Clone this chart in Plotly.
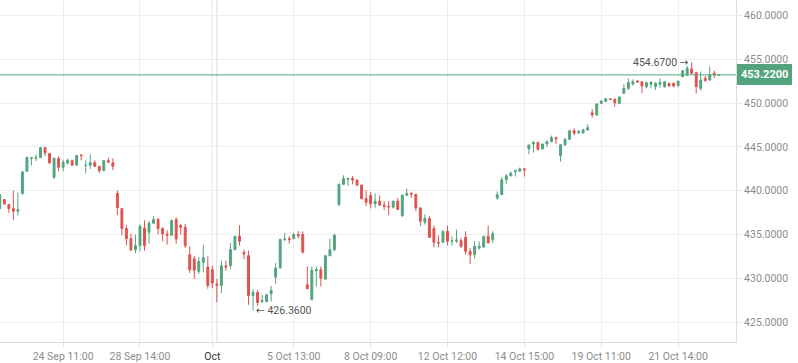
import plotly.graph_objects as go

opens = [437.97, 439.0, 438.42, 437.97, 437.66, 439.68, 442.22, 443.7, 443.7, 443.78,
         444.92, 444.24, 441.54, 443.67, 442.68, 443.17, 443.44, 442.91, 444.09, 442.87,
         442.91, 443.21, 442.79, 442.3, 443.44, 443.21, 439.69, 437.98, 435.69, 434.54,
         433.28, 433.74, 435.76, 435.27, 436.3, 436.72, 435.69, 435.08, 434.92, 436.72,
         436.03, 435.84, 432.71, 432.25, 430.8, 431.83, 431.3, 430.99, 429.35, 429.2,
         431.45, 431.45, 433.28, 434.81, 432.98, 432.6, 428.05, 428.4, 427.37, 427.37,
         428.25, 430.15, 431.18, 434.43, 434.54, 434.54, 435.0, 435.0, 429.27, 427.56,
         430.88, 430.99, 429.92, 432.6, 433.28, 438.44, 440.73, 441.3, 441.41, 441.22,
         440.65, 439.12, 439.47, 438.51, 438.82, 438.36, 438.24, 438.13, 438.82, 437.18,
         439.5, 439.69, 439.58, 438.05, 436.41, 436.83, 435.69, 434.12, 434.12, 435.38,
         434.2, 434.27, 434.31, 434.69, 433.09, 432.71, 433.47, 433.59, 434.81, 434.43,
         439.17, 439.55, 441.25, 441.7, 442.2, 442.27, 442.5, 444.77, 445.34, 445.5,
         444.77, 445.34, 445.61, 446.06, 444.01, 445.23, 445.87, 446.86, 446.63, 446.63,
         446.93, 448.9, 448.64, 449.96, 450.2, 450.5, 450.45, 449.96, 451.11, 451.68,
         452.18, 452.52, 452.44, 451.87, 452.14, 451.87, 452.14, 451.87, 452.25, 452.25,
         451.98, 453.02, 453.21, 453.9, 453.47, 451.68, 452.82, 452.63, 453.4, 453.21]
highs = [439.6, 439.05, 438.54, 440.02, 439.83, 442.22, 443.94, 443.78, 444.16, 445.0,
         445.0, 444.32, 443.78, 443.94, 443.55, 443.67, 443.55, 444.09, 444.16, 443.48,
         444.16, 443.48, 442.79, 443.44, 443.78, 443.7, 440.04, 437.98, 436.07, 435.11,
         435.0, 436.15, 436.64, 436.53, 437.1, 436.91, 435.84, 435.5, 436.72, 436.98,
         436.22, 436.22, 433.66, 432.6, 432.44, 433.85, 432.52, 431.45, 429.96, 432.02,
         432.02, 434.05, 434.81, 436.07, 433.28, 433.17, 428.78, 428.7, 428.13, 428.24,
         429.16, 431.76, 434.54, 435.19, 434.81, 435.19, 435.38, 435.38, 431.37, 431.37,
         431.37, 431.37, 432.6, 434.54, 435.11, 440.84, 441.76, 441.41, 441.68, 441.3,
         440.65, 440.04, 439.85, 439.69, 439.47, 438.82, 438.82, 438.82, 439.2, 439.5,
         440.27, 439.89, 439.69, 438.05, 437.29, 437.1, 436.03, 434.89, 435.46, 436.03,
         434.81, 435.57, 434.62, 435.38, 433.47, 434.24, 434.24, 434.81, 436.03, 435.38,
         439.92, 441.55, 441.93, 442.2, 442.39, 442.65, 442.58, 445.23, 445.68, 445.61,
         445.34, 445.72, 446.29, 446.17, 445.34, 445.98, 446.93, 447.12, 446.93, 447.08,
         447.58, 449.32, 449.96, 450.34, 450.6, 450.53, 450.45, 450.73, 452.14, 452.82,
         452.71, 452.63, 452.52, 452.44, 452.52, 452.37, 452.82, 452.52, 452.33, 452.37,
         452.52, 453.7, 454.24, 454.67, 453.59, 453.59, 453.09, 454.16, 453.7, 453.26]
lows = [437.9, 438.4, 437.47, 436.64, 437.17, 439.56, 442.19, 442.9, 443.4, 443.78,
        443.94, 443.1, 441.35, 442.22, 442.22, 442.98, 442.91, 442.91, 443.48, 441.99,
        442.49, 442.79, 442.03, 442.22, 443.25, 442.34, 437.21, 434.92, 433.78, 433.09,
        432.9, 433.09, 433.17, 433.97, 436.22, 435.0, 434.24, 433.85, 434.92, 433.93,
        435.0, 433.47, 430.61, 429.96, 430.5, 430.69, 428.82, 428.89, 427.29, 428.32,
        430.88, 431.07, 433.2, 433.74, 432.21, 426.99, 426.36, 426.87, 427.18, 427.25,
        427.37, 429.39, 431.18, 434.24, 433.97, 434.54, 434.54, 432.82, 428.82, 427.56,
        429.08, 429.08, 429.92, 432.52, 433.1, 438.24, 440.65, 440.53, 440.73, 440.53,
        439.0, 438.24, 437.98, 438.05, 438.24, 437.79, 437.21, 437.98, 437.86, 436.98,
        439.39, 439.2, 437.67, 435.95, 436.15, 434.69, 433.55, 433.55, 434.12, 433.78,
        433.74, 434.05, 433.47, 432.71, 431.64, 432.25, 433.28, 433.47, 434.05, 434.05,
        438.98, 439.55, 440.8, 441.7, 441.63, 442.12, 441.63, 444.17, 444.36, 444.58,
        444.77, 445.04, 445.53, 445.34, 443.33, 445.15, 445.8, 446.36, 446.48, 446.48,
        446.86, 448.33, 448.56, 449.89, 450.08, 450.34, 449.58, 449.96, 451.11, 451.49,
        452.0, 452.4, 451.11, 451.68, 451.68, 451.49, 451.79, 451.76, 451.83, 451.79,
        451.87, 452.94, 453.1, 453.32, 451.11, 451.41, 452.44, 452.56, 452.86, 453.18]
closes = [439.56, 438.5, 437.97, 437.66, 437.85, 442.15, 443.78, 443.78, 443.8, 444.92,
          444.32, 443.17, 443.7, 442.68, 443.25, 443.48, 442.91, 444.01, 444.01, 442.91,
          443.21, 442.79, 442.3, 443.44, 443.25, 442.79, 438.09, 435.69, 434.54, 433.28,
          433.74, 435.95, 433.74, 436.3, 436.72, 435.69, 435.08, 434.92, 436.6, 434.5,
          435.84, 433.74, 430.99, 430.92, 431.95, 432.37, 429.2, 429.47, 429.2, 431.45,
          431.3, 433.28, 434.81, 434.24, 432.79, 428.05, 428.4, 427.25, 427.48, 428.13,
          428.63, 431.18, 434.43, 434.5, 434.43, 435.0, 434.89, 433.02, 428.82, 430.92,
          430.99, 430.04, 432.6, 433.28, 434.92, 440.73, 441.41, 441.41, 441.22, 440.65,
          439.12, 438.7, 438.51, 438.82, 438.36, 438.24, 438.17, 438.82, 437.86, 439.5,
          439.69, 439.62, 438.05, 436.53, 436.83, 434.69, 434.12, 434.05, 435.38, 434.24,
          434.31, 434.39, 433.66, 433.09, 432.71, 433.66, 433.66, 434.81, 434.05, 435.11,
          439.55, 441.25, 441.7, 442.0, 442.31, 442.5, 442.39, 445.23, 445.5, 444.73,
          445.34, 445.61, 446.06, 445.91, 445.23, 445.87, 446.86, 446.55, 446.74, 446.93,
          447.2, 448.64, 449.89, 450.23, 450.5, 450.42, 450.04, 450.7, 451.68, 452.33,
          452.44, 452.4, 451.95, 452.33, 452.37, 452.25, 452.37, 452.44, 451.98, 451.95,
          452.52, 453.7, 453.97, 453.4, 451.87, 452.63, 452.56, 453.21, 453.21, 453.22]

tick_index = [14, 31, 47, 65, 82, 99, 116, 133, 150]
tick_labels = ["24 Sep 11:00", "28 Sep 14:00", "Oct", "5 Oct 13:00", "8 Oct 09:00",
               "12 Oct 12:00", "14 Oct 15:00", "19 Oct 11:00", "21 Oct 14:00"]
month_index = 48
price_ticks = [425, 430, 435, 440, 445, 450, 455, 460]

UP = "#53a47e"
DOWN = "#e0524f"
GRID = "#eeeeee"
FONT = "Roboto"

x = list(range(len(closes)))
last = closes[-1]
hi_i = max(range(len(highs)), key=lambda i: highs[i])
lo_i = min(range(len(lows)), key=lambda i: lows[i])

ticktext = [('<span style="color:#333333">%s</span>' % t) if t == "Oct" else t for t in tick_labels]
ARROW_R = '<span style="font-family:DejaVu Sans">→</span>'
ARROW_L = '<span style="font-family:DejaVu Sans">←</span>'

fig = go.Figure(go.Candlestick(
    x=x, open=opens, high=highs, low=lows, close=closes,
    increasing=dict(line=dict(color=UP, width=1), fillcolor=UP),
    decreasing=dict(line=dict(color=DOWN, width=1), fillcolor=DOWN),
    hoverinfo="skip", showlegend=False,
))

fig.update_layout(
    width=798, height=363,
    margin=dict(l=0, r=62, t=0, b=21),
    paper_bgcolor="white", plot_bgcolor="white",
    font=dict(family=FONT, size=10.5, color="#8c8c8c"),
    boxgap=0.4,
    showlegend=False,
    xaxis=dict(
        range=[0.044, 162.8], rangeslider=dict(visible=False),
        tickmode="array", tickvals=tick_index, ticktext=ticktext,
        showgrid=True, gridcolor=GRID, gridwidth=1,
        showline=True, linecolor="#dcdcdc", linewidth=1,
        ticks="outside", ticklen=4, tickcolor="#dcdcdc",
        zeroline=False, fixedrange=True,
    ),
    yaxis=dict(
        range=[422.75, 461.76], side="right",
        tickmode="array", tickvals=price_ticks, tickformat=".4f",
        showgrid=True, gridcolor=GRID, gridwidth=1,
        showline=True, linecolor="#dcdcdc", linewidth=1,
        ticks="outside", ticklen=5, tickcolor="#e6e6e6",
        zeroline=False, fixedrange=True,
    ),
)

for xi in (tick_index[2], month_index):
    fig.add_shape(type="line", xref="x", yref="paper", x0=xi, x1=xi, y0=0, y1=1,
                  line=dict(color="#dadada", width=1), layer="below")

fig.add_shape(type="line", xref="paper", yref="y", x0=0, x1=1, y0=last, y1=last,
              line=dict(color=UP, width=1))
fig.add_annotation(xref="paper", yref="y", x=1.0, y=last, xanchor="left", yanchor="middle",
                   text="<b>%.4f</b>" % last, showarrow=False, xshift=1,
                   font=dict(family=FONT, size=11, color="white"),
                   bgcolor=UP, borderpad=3, bordercolor=UP)

fig.add_annotation(x=hi_i, y=highs[hi_i], xanchor="right", yanchor="middle",
                   text="%.4f %s" % (highs[hi_i], ARROW_R), showarrow=False, xshift=-1,
                   font=dict(family=FONT, size=10.5, color="#555555"))
fig.add_annotation(x=lo_i, y=lows[lo_i], xanchor="left", yanchor="middle",
                   text="%s %.4f" % (ARROW_L, lows[lo_i]), showarrow=False, xshift=1,
                   font=dict(family=FONT, size=10.5, color="#555555"))

fig.write_html("out.html")
